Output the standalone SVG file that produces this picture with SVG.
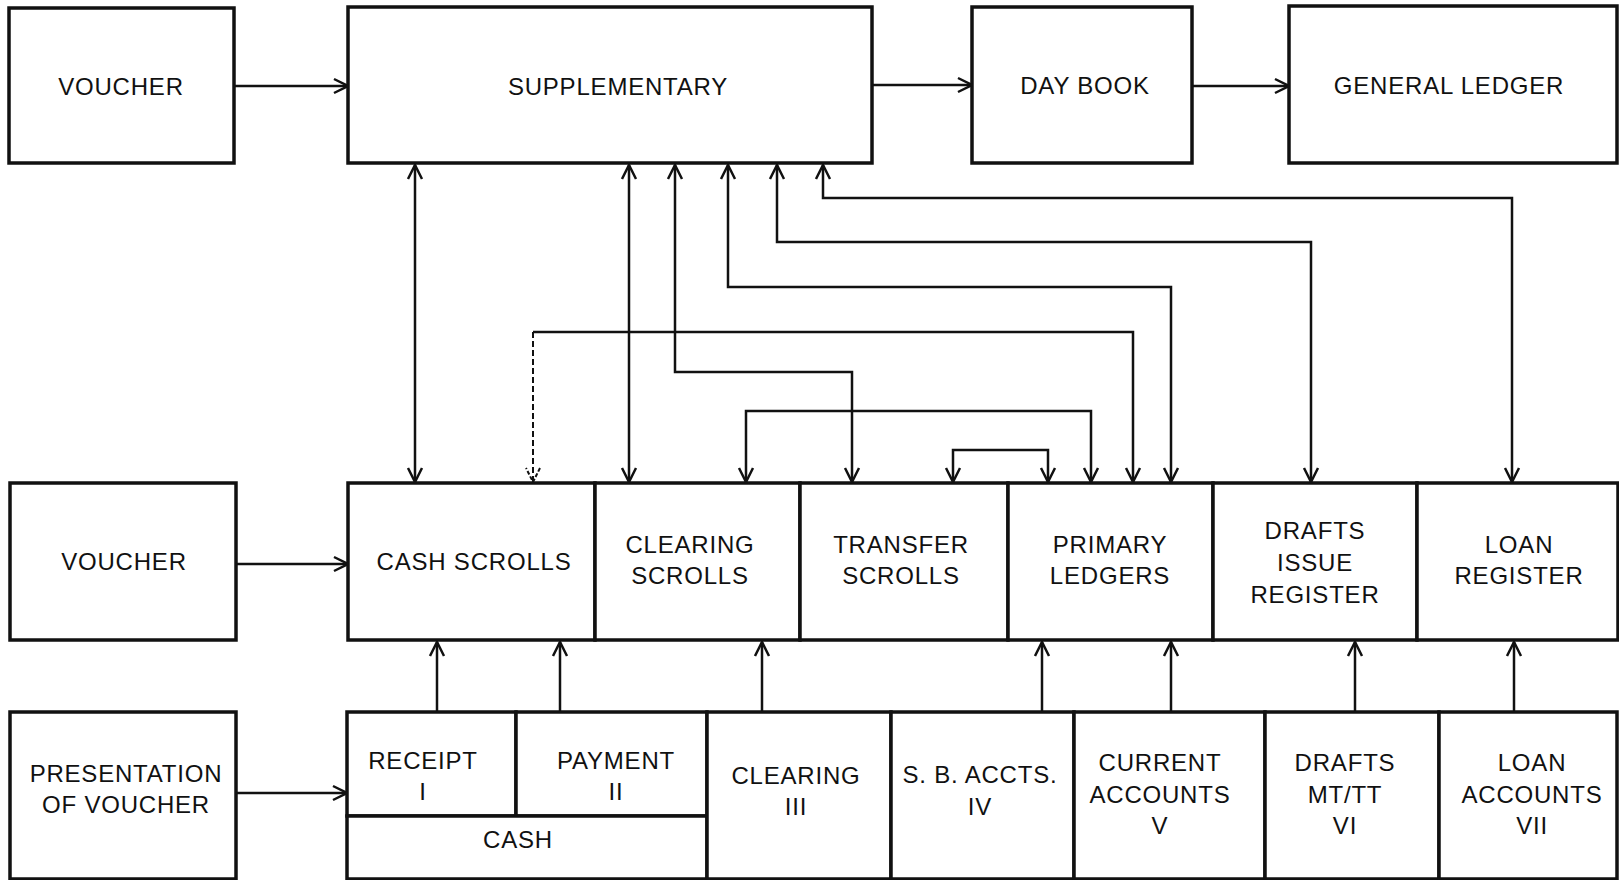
<svg xmlns="http://www.w3.org/2000/svg" width="1619" height="880" viewBox="0 0 1619 880">
<style>
.box{fill:#fff;stroke:#111;stroke-width:3.5}
.div{fill:none;stroke:#111;stroke-width:3}
.t{font-family:"Liberation Sans",Arial,sans-serif;font-size:24px;fill:#111;text-anchor:middle;letter-spacing:0.8px}
.c{fill:none;stroke:#111;stroke-width:2.5;stroke-linejoin:miter}
.d{fill:none;stroke:#111;stroke-width:2;stroke-dasharray:6 3}
</style>
<defs>
<marker id="ah" markerUnits="userSpaceOnUse" markerWidth="18" markerHeight="18" viewBox="-16 -9 18 18" refX="0" refY="0" orient="auto-start-reverse">
<path d="M-14,-7 L0,0 L-14,7" fill="none" stroke="#111" stroke-width="2.5"/>
</marker>
<marker id="ahd" markerUnits="userSpaceOnUse" markerWidth="18" markerHeight="18" viewBox="-16 -9 18 18" refX="0" refY="0" orient="auto-start-reverse">
<path d="M-14,-7 L0,0 L-14,7" fill="none" stroke="#111" stroke-width="2" stroke-dasharray="4 2"/>
</marker>
</defs>
<rect width="1619" height="880" fill="#fff"/>

<g id="connectors">
<line class="c" x1="234" y1="86" x2="348" y2="86" marker-end="url(#ah)"/>
<line class="c" x1="872" y1="85" x2="972" y2="85" marker-end="url(#ah)"/>
<line class="c" x1="1192" y1="86" x2="1289" y2="86" marker-end="url(#ah)"/>
<line class="c" x1="236" y1="564" x2="348" y2="564" marker-end="url(#ah)"/>
<line class="c" x1="236" y1="793" x2="347" y2="793" marker-end="url(#ah)"/>
<line class="c" x1="415" y1="165" x2="415" y2="482" marker-start="url(#ah)" marker-end="url(#ah)"/>
<line class="c" x1="629" y1="165" x2="629" y2="482" marker-start="url(#ah)" marker-end="url(#ah)"/>
<path class="c" d="M675,165 V372 H852 V482" marker-start="url(#ah)" marker-end="url(#ah)"/>
<path class="c" d="M728,165 V287 H1171 V482" marker-start="url(#ah)" marker-end="url(#ah)"/>
<path class="c" d="M777,165 V242 H1311 V482" marker-start="url(#ah)" marker-end="url(#ah)"/>
<path class="c" d="M823,165 V198 H1512 V482" marker-start="url(#ah)" marker-end="url(#ah)"/>
<path class="d" d="M533,482 V332" marker-start="url(#ahd)"/>
<path class="c" d="M533,332 H1133 V482" marker-end="url(#ah)"/>
<path class="c" d="M746,482 V411 H1091 V482" marker-start="url(#ah)" marker-end="url(#ah)"/>
<path class="c" d="M953,482 V450 H1048 V482" marker-start="url(#ah)" marker-end="url(#ah)"/>
<line class="c" x1="437" y1="712" x2="437" y2="642" marker-end="url(#ah)"/>
<line class="c" x1="560" y1="712" x2="560" y2="642" marker-end="url(#ah)"/>
<line class="c" x1="762" y1="712" x2="762" y2="642" marker-end="url(#ah)"/>
<line class="c" x1="1042" y1="712" x2="1042" y2="642" marker-end="url(#ah)"/>
<line class="c" x1="1171" y1="712" x2="1171" y2="642" marker-end="url(#ah)"/>
<line class="c" x1="1355" y1="712" x2="1355" y2="642" marker-end="url(#ah)"/>
<line class="c" x1="1514" y1="712" x2="1514" y2="642" marker-end="url(#ah)"/>
</g>

<g id="voucher-top">
<rect class="box" x="9" y="8" width="225" height="155"/>
<text class="t" x="121" y="95">VOUCHER</text>
</g>
<g id="supplementary">
<rect class="box" x="348" y="7" width="524" height="156"/>
<text class="t" x="618" y="95">SUPPLEMENTARY</text>
</g>
<g id="day-book">
<rect class="box" x="972" y="7" width="220" height="156"/>
<text class="t" x="1085" y="94">DAY BOOK</text>
</g>
<g id="general-ledger">
<rect class="box" x="1289" y="6" width="328" height="157"/>
<text class="t" x="1449" y="94">GENERAL LEDGER</text>
</g>

<g id="voucher-mid">
<rect class="box" x="10" y="483" width="226" height="157"/>
<text class="t" x="124" y="570">VOUCHER</text>
</g>
<g id="cash-scrolls">
<rect class="box" x="348" y="483" width="247" height="157"/>
<text class="t" x="474" y="570">CASH SCROLLS</text>
</g>
<g id="clearing-scrolls">
<rect class="box" x="595" y="483" width="205" height="157"/>
<text class="t" x="690" y="553">CLEARING</text>
<text class="t" x="690" y="584">SCROLLS</text>
</g>
<g id="transfer-scrolls">
<rect class="box" x="800" y="483" width="208" height="157"/>
<text class="t" x="901" y="553">TRANSFER</text>
<text class="t" x="901" y="584">SCROLLS</text>
</g>
<g id="primary-ledgers">
<rect class="box" x="1008" y="483" width="205" height="157"/>
<text class="t" x="1110" y="553">PRIMARY</text>
<text class="t" x="1110" y="584">LEDGERS</text>
</g>
<g id="drafts-issue-register">
<rect class="box" x="1213" y="483" width="204" height="157"/>
<text class="t" x="1315" y="539">DRAFTS</text>
<text class="t" x="1315" y="571">ISSUE</text>
<text class="t" x="1315" y="603">REGISTER</text>
</g>
<g id="loan-register">
<rect class="box" x="1417" y="483" width="201" height="157"/>
<text class="t" x="1519" y="553">LOAN</text>
<text class="t" x="1519" y="584">REGISTER</text>
</g>

<g id="presentation">
<rect class="box" x="10" y="712" width="226" height="167"/>
<text class="t" x="126" y="782">PRESENTATION</text>
<text class="t" x="126" y="813">OF VOUCHER</text>
</g>
<g id="receipt">
<rect class="box" x="347" y="712" width="169" height="104"/>
<text class="t" x="423" y="769">RECEIPT</text>
<text class="t" x="423" y="800">I</text>
</g>
<g id="payment">
<rect class="box" x="516" y="712" width="191" height="104"/>
<text class="t" x="616" y="769">PAYMENT</text>
<text class="t" x="616" y="800">II</text>
</g>
<g id="cash">
<rect class="box" x="347" y="816" width="360" height="63"/>
<text class="t" x="518" y="848">CASH</text>
</g>
<g id="clearing">
<rect class="box" x="707" y="712" width="184" height="167"/>
<text class="t" x="796" y="784">CLEARING</text>
<text class="t" x="796" y="815">III</text>
</g>
<g id="sb-accts">
<rect class="box" x="891" y="712" width="183" height="167"/>
<text class="t" x="980" y="783">S. B. ACCTS.</text>
<text class="t" x="980" y="815">IV</text>
</g>
<g id="current-accounts">
<rect class="box" x="1074" y="712" width="191" height="167"/>
<text class="t" x="1160" y="771">CURRENT</text>
<text class="t" x="1160" y="803">ACCOUNTS</text>
<text class="t" x="1160" y="834">V</text>
</g>
<g id="drafts-mt-tt">
<rect class="box" x="1265" y="712" width="174" height="167"/>
<text class="t" x="1345" y="771">DRAFTS</text>
<text class="t" x="1345" y="803">MT/TT</text>
<text class="t" x="1345" y="834">VI</text>
</g>
<g id="loan-accounts">
<rect class="box" x="1439" y="712" width="178" height="167"/>
<text class="t" x="1532" y="771">LOAN</text>
<text class="t" x="1532" y="803">ACCOUNTS</text>
<text class="t" x="1532" y="834">VII</text>
</g>
</svg>
